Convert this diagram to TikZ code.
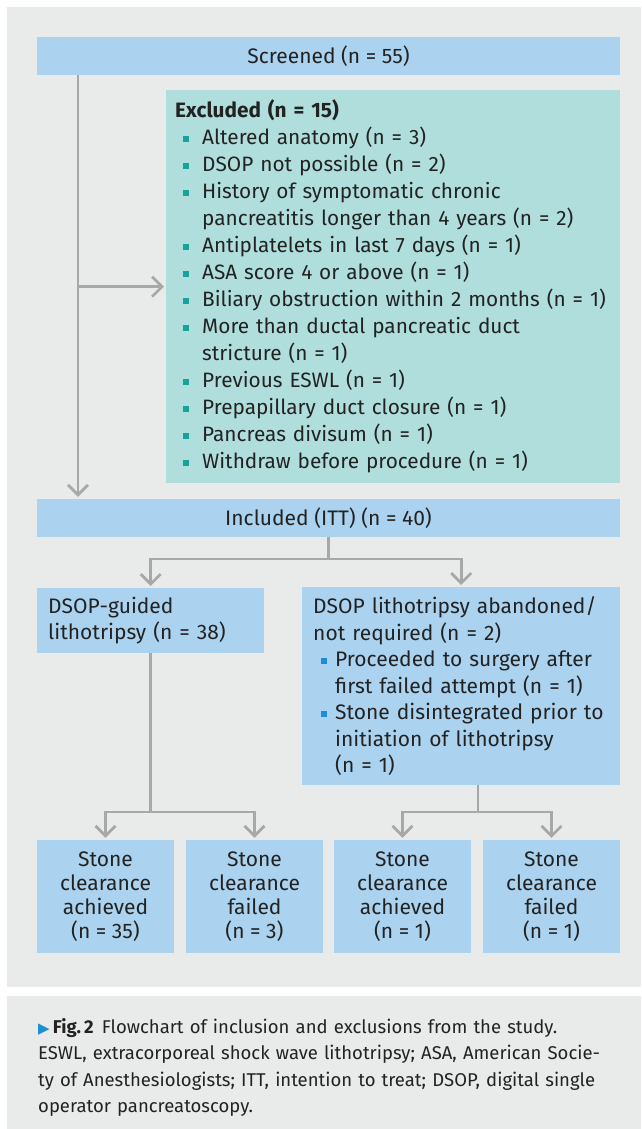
\documentclass[tikz,border=0pt]{standalone}
\usepackage{fontspec}
\setmainfont{Fira Sans}
\newfontfamily\symfont{DejaVu Sans}
\usetikzlibrary{arrows.meta}

\definecolor{panelgray}{HTML}{E9EBEB}
\definecolor{boxblue}{HTML}{ABD3EF}
\definecolor{boxteal}{HTML}{B0DEDD}
\definecolor{exbullet}{HTML}{16A39A}
\definecolor{dsbullet}{HTML}{1A8FD6}
\definecolor{linegray}{HTML}{A8A8A8}
\definecolor{inktext}{HTML}{222222}

% bullet lists inside the boxes
\newcommand{\listitem}[3]{\makebox[#1][l]{\hspace*{8pt}\textcolor{#2}{\rule[3pt]{6pt}{6pt}}}#3}
\newcommand{\exitem}[1]{\listitem{27pt}{exbullet}{#1}}
\newcommand{\exmore}[1]{\hspace*{27pt}#1}
\newcommand{\dsitem}[1]{\listitem{22pt}{dsbullet}{#1}}
\newcommand{\dsmore}[1]{\hspace*{22pt}#1}

\begin{document}
\begin{tikzpicture}[x=1pt,y=-1pt,
    box/.style={fill=boxblue, inner sep=0pt, text=inktext, font=\fontsize{21}{26.5}\selectfont},
    stonebox/.style={box, minimum width=137pt, minimum height=113pt, align=center,
      font=\fontsize{21}{24}\selectfont},
    link/.style={draw=linegray, line width=2.7pt},
    arr/.style={link, -{Straight Barb[length=10pt,width=20pt]}, shorten >=2pt}]
  \useasboundingbox (0,0) rectangle (641,1129);
  % panels
  \fill[panelgray] (7,7) rectangle (641,987);
  \fill[panelgray] (7,996) rectangle (641,1129);

  \node[box, minimum width=583pt, minimum height=38pt] (screened) at (328.5,56) {Screened (n = 55)};
  \node[box, fill=boxteal, anchor=north west, minimum width=454pt, minimum height=393pt,
    inner xsep=9pt, text width=436pt, align=left, font=\fontsize{20.8}{27}\selectfont] (excluded) at (166,90) {%
    \textbf{Excluded (n = 15)}\\
    \exitem{Altered anatomy (n = 3)}\\
    \exitem{DSOP not possible (n = 2)}\\
    \exitem{History of symptomatic chronic}\\
    \exmore{pancreatitis longer than 4 years (n = 2)}\\
    \exitem{Antiplatelets in last 7 days (n = 1)}\\
    \exitem{ASA score 4 or above (n = 1)}\\
    \exitem{Biliary obstruction within 2 months (n = 1)}\\
    \exitem{More than ductal pancreatic duct}\\
    \exmore{stricture (n = 1)}\\
    \exitem{Previous ESWL (n = 1)}\\
    \exitem{Prepapillary duct closure (n = 1)}\\
    \exitem{Pancreas divisum (n = 1)}\\
    \exitem{Withdraw before procedure (n = 1)}};
  \node[box, minimum width=583pt, minimum height=38pt] (included) at (328.5,518) {Included (ITT) (n = 40)};

  \node[box, anchor=north west, minimum width=227pt, minimum height=65pt,
    inner xsep=11pt, text width=205pt, align=left] (guided) at (37,588) {DSOP-guided\\ lithotripsy (n = 38)};
  \node[box, anchor=north west, minimum width=318pt, minimum height=198pt,
    inner xsep=11pt, text width=296pt, align=left] (abandoned) at (302,587) {%
    DSOP lithotripsy abandoned/\\
    not required (n = 2)\\
    \dsitem{Proceeded to surgery after}\\
    \dsmore{first failed attempt (n = 1)}\\
    \dsitem{Stone disintegrated prior to}\\
    \dsmore{initiation of lithotripsy}\\
    \dsmore{(n = 1)}};

  \node[stonebox] (stoneA) at (105.5,896.5) {Stone\\ clearance\\ achieved\\ (n = 35)};
  \node[stonebox] (stoneB) at (254.5,896.5) {Stone\\ clearance\\ failed\\ (n = 3)};
  \node[stonebox] (stoneC) at (402.5,896.5) {Stone\\ clearance\\ achieved\\ (n = 1)};
  \node[stonebox] (stoneD) at (551.5,896.5) {Stone\\ clearance\\ failed\\ (n = 1)};

  % connectors
  \coordinate (trunk) at (78,0);
  \coordinate (split) at (0,559);
  \coordinate (lsplit) at (0,812);
  \coordinate (rtrunk) at (478,0);
  \draw[arr] (screened.south -| trunk) -- (included.north -| trunk);
  \draw[arr] (trunk |- excluded.west) -- (excluded.west);
  \draw[link] (included.south) -- (included.south |- split);
  \draw[arr] (included.south |- split) -| (guided.north);
  \draw[arr] (included.south |- split) -| (abandoned.north);
  \draw[link] (guided.south) -- (guided.south |- lsplit);
  \draw[arr] (guided.south |- lsplit) -| (stoneA.north);
  \draw[arr] (guided.south |- lsplit) -| (stoneB.north);
  \draw[link] (abandoned.south -| rtrunk) -- (rtrunk |- lsplit);
  \draw[arr] (rtrunk |- lsplit) -| (stoneC.north);
  \draw[arr] (rtrunk |- lsplit) -| (stoneD.north);

  % caption
  \node[anchor=north west, inner sep=0pt, text width=600pt, align=left, text=inktext,
    font=\fontsize{18.5}{26.5}\selectfont] (caption) at (38,1018) {%
    {\symfont\fontsize{15}{15}\selectfont\textcolor{dsbullet}{▶}}\,\textbf{Fig.\,2}\hspace{8pt}Flowchart of inclusion and exclusions from the study.\\
    ESWL, extracorporeal shock wave lithotripsy; ASA, American Socie-\\
    ty of Anesthesiologists; ITT, intention to treat; DSOP, digital single\\
    operator pancreatoscopy.};
\end{tikzpicture}
\end{document}
